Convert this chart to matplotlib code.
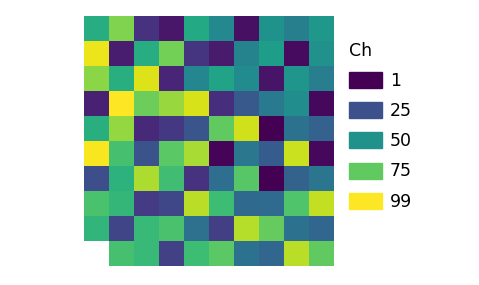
import numpy as np
import matplotlib.pyplot as plt
from matplotlib.patches import Patch

# cell values (1..99), row by row from the top; NaN = empty cell
row01 = [62, 80, 15, 7, 60, 47, 5, 51, 43, 53]
row02 = [96, 9, 62, 78, 16, 8, 45, 55, 4, 50]
row03 = [82, 63, 94, 11, 46, 58, 48, 6, 52, 42]
row04 = [10, 99, 77, 84, 93, 14, 28, 41, 49, 3]
row05 = [63, 83, 12, 17, 27, 75, 92, 1, 38, 31]
row06 = [98, 70, 26, 74, 86, 2, 40, 29, 91, 3]
row07 = [24, 64, 87, 69, 15, 36, 73, 1, 32, 39]
row08 = [71, 66, 18, 22, 89, 68, 34, 35, 72, 90]
row09 = [65, 21, 67, 71, 37, 19, 88, 76, 38, 33]
row10 = [np.nan, 70, 67, 20, 68, 74, 38, 33, 89, 75]

legend_values = [1, 25, 50, 75, 99]
legend_title = 'Ch'

grid = np.array([row01, row02, row03, row04, row05,
                 row06, row07, row08, row09, row10], dtype=float)

fig = plt.figure(figsize=(4.79, 2.85), dpi=100)
ax = fig.add_axes([84 / 479, 19 / 285, 250 / 479, 250 / 285])

cmap = plt.get_cmap('viridis')
norm = plt.Normalize(1, 99)
ax.pcolormesh(grid, cmap=cmap, norm=norm)
ax.set_xlim(0, 10)
ax.set_ylim(10, 0)
ax.axis('off')

handles = [Patch(facecolor=cmap(norm(v)), edgecolor=cmap(norm(v))) for v in legend_values]
leg = fig.legend(handles, [str(v) for v in legend_values], title=legend_title,
                 loc='upper left', bbox_to_anchor=(335 / 479, 1 - 28 / 285),
                 frameon=False, fontsize=12.5, title_fontsize=12.5,
                 handlelength=1.9, handleheight=1.05, labelspacing=0.7,
                 handletextpad=0.45, borderpad=0.3)
leg._legend_box.align = 'left'

fig.savefig('out.png', dpi=100)
